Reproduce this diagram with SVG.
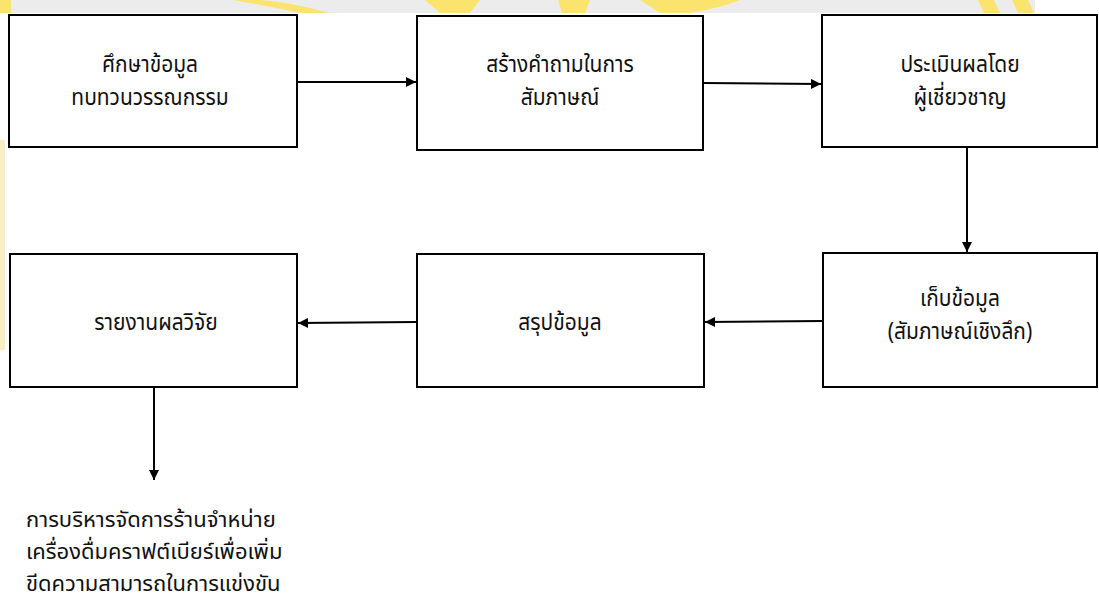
<svg xmlns="http://www.w3.org/2000/svg" width="1099" height="605" viewBox="0 0 1099 605">
<style>
.box{fill:#fff;stroke:#000;stroke-width:2}
.t{font-family:"Noto Sans Thai","Noto Serif Thai","Noto Sans","DejaVu Sans",sans-serif;font-size:21px;fill:#111;text-anchor:middle}
.tl{text-anchor:start;font-size:22px}
.c{stroke:#000;stroke-width:2;fill:none}
.wm{fill:#fbe46e}
</style>
<defs>
<marker id="ah" markerUnits="userSpaceOnUse" markerWidth="11" markerHeight="11" refX="10" refY="5" orient="auto">
<path d="M0,0 L10,5 L0,10 z" fill="#000"/>
</marker>
</defs>
<rect width="1099" height="605" fill="#fff"/>
<g id="watermark">
<rect x="0" y="0" width="1035" height="13" fill="#ececec"/>
<rect class="wm" x="0" y="0" width="11" height="13"/>
<path class="wm" d="M212,0 L232,0 Q270,6 300,13 L330,13 Q290,2 260,0 Z"/>
<path class="wm" d="M425,0 L480,0 L470,13 L440,13 Z"/>
<path class="wm" d="M558,0 L590,0 L585,13 L562,13 Z"/>
<path class="wm" d="M640,0 L740,0 Q720,8 690,13 L660,13 Q650,6 640,0 Z"/>
<path class="wm" d="M978,0 L994,0 L1000,13 L984,13 Z"/>
<path class="wm" d="M1012,0 L1028,0 L1034,13 L1018,13 Z"/>
<rect x="0" y="140" width="5" height="210" fill="#f6efc8"/>
</g>
<g id="connectors">
<line class="c" x1="297" y1="82" x2="416" y2="82" marker-end="url(#ah)"/>
<line class="c" x1="703" y1="83" x2="821" y2="84" marker-end="url(#ah)"/>
<line class="c" x1="967" y1="148" x2="967" y2="252" marker-end="url(#ah)"/>
<line class="c" x1="823" y1="321" x2="705" y2="322" marker-end="url(#ah)"/>
<line class="c" x1="417" y1="322" x2="298" y2="323" marker-end="url(#ah)"/>
<line class="c" x1="154" y1="388" x2="154" y2="480" marker-end="url(#ah)"/>
</g>
<g id="n1"><rect class="box" x="9" y="15" width="288" height="132"/>
<text class="t" transform="translate(150,72) scale(1,1.1)">ศึกษาข้อมูล</text><text class="t" transform="translate(150,105) scale(1,1.1)">ทบทวนวรรณกรรม</text></g>
<g id="n2"><rect class="box" x="417" y="16" width="286" height="134"/>
<text class="t" transform="translate(560,72) scale(1,1.1)">สร้างคำถามในการ</text><text class="t" transform="translate(560,105) scale(1,1.1)">สัมภาษณ์</text></g>
<g id="n3"><rect class="box" x="822" y="15" width="275" height="132"/>
<text class="t" transform="translate(960,72) scale(1,1.1)">ประเมินผลโดย</text><text class="t" transform="translate(960,105) scale(1,1.1)">ผู้เชี่ยวชาญ</text></g>
<g id="n4"><rect class="box" x="823" y="253" width="274" height="134"/>
<text class="t" transform="translate(960,306) scale(1,1.1)">เก็บข้อมูล</text><text class="t" transform="translate(960,339) scale(1,1.1)">(สัมภาษณ์เชิงลึก)</text></g>
<g id="n5"><rect class="box" x="417" y="254" width="287" height="133"/>
<text class="t" transform="translate(560,330) scale(1,1.1)">สรุปข้อมูล</text></g>
<g id="n6"><rect class="box" x="10" y="254" width="287" height="133"/>
<text class="t" transform="translate(156,330) scale(1,1.1)">รายงานผลวิจัย</text></g>
<g id="result">
<text class="t tl" transform="translate(26,527)">การบริหารจัดการร้านจำหน่าย</text>
<text class="t tl" transform="translate(26,559)">เครื่องดื่มคราฟต์เบียร์เพื่อเพิ่ม</text>
<text class="t tl" transform="translate(26,591)">ขีดความสามารถในการแข่งขัน</text>
</g>
</svg>
